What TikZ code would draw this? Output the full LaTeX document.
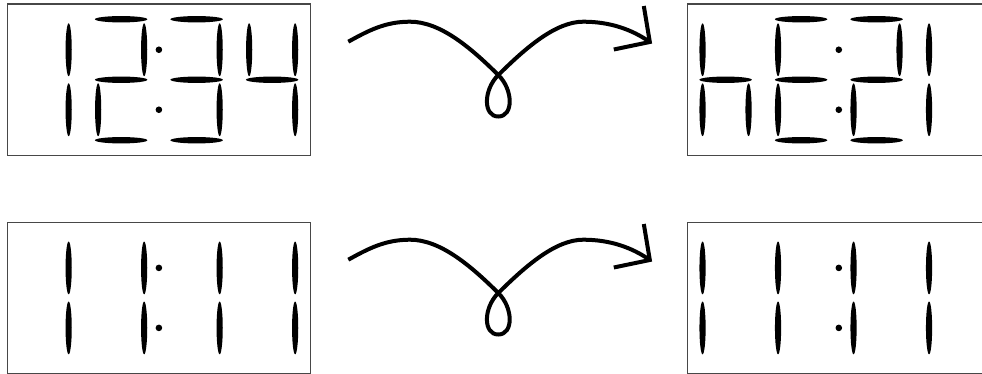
\documentclass[tikz,border=0pt]{standalone}
\begin{document}
\begin{tikzpicture}[x=1pt,y=-1pt,
  box/.style={draw=black!72, line width=1.3pt, minimum width=303pt, minimum height=151.5pt, inner sep=0pt, outer sep=0pt},
  swirl/.style={line width=4pt, line join=miter},
  seg a/.pic={\fill (0,-60.5) ellipse [x radius=26.2pt, y radius=3.2pt];},
  seg d/.pic={\fill (0,60.5) ellipse [x radius=26.2pt, y radius=3.2pt];},
  seg g/.pic={\fill (0,0) ellipse [x radius=26.2pt, y radius=3.2pt];},
  seg b/.pic={\fill (23,-30) ellipse [x radius=3.1pt, y radius=26.4pt];},
  seg c/.pic={\fill (23,30) ellipse [x radius=3.1pt, y radius=26.4pt];},
  seg e/.pic={\fill (-23,30) ellipse [x radius=3.1pt, y radius=26.4pt];},
  seg f/.pic={\fill (-23,-30) ellipse [x radius=3.1pt, y radius=26.4pt];},
  colon/.pic={\fill (0,-30) circle [radius=3.3pt]; \fill (0,30) circle [radius=3.3pt];}
]
\newcommand\sdigit[2]{\foreach \s in {#2}{\edef\tmp{\noexpand\pic at (#1,0) {seg \s};}\tmp}}
\newcommand\swirlarrow[2]{%
  \begin{scope}[shift={(0,#1)}]
    \coordinate (#2s) at (348.3,41.7);
    \coordinate (#2p) at (410,21.7);
    \coordinate (#2x) at (498.3,75);
    \coordinate (#2b) at (498.3,116.5);
    \coordinate (#2q) at (583.3,21.7);
    \coordinate (#2t) at (649.8,42);
    \draw[swirl] (#2s) .. controls (368.3,30.7) and (385,21.7) .. (#2p)
      .. controls (440,21.7) and (470,47) .. (#2x)
      .. controls (513.5,90) and (513.5,116.5) .. (#2b)
      .. controls (483.1,116.5) and (483.1,90) .. (#2x)
      .. controls (526.6,47) and (556,21.7) .. (#2q)
      .. controls (610,21.7) and (632,29.5) .. (#2t);
    \draw[swirl] (#2t) ++(-6,-36) -- (#2t) -- ++(-36,7.5);
  \end{scope}}
\clip (0,0) rectangle (982,374);
\fill[white] (0,0) rectangle (982,374);
\node[box] (tl) at (158.9,79.75) {};
\node[box] (tr) at (838.8,79.75) {};
\node[box] (bl) at (158.9,297.9) {};
\node[box] (br) at (838.8,297.9) {};
% top left: 12:34
\begin{scope}[shift={(tl.center)}]
  \sdigit{-113.25}{b,c}
  \sdigit{-37.75}{a,b,g,e,d}
  \sdigit{37.75}{a,b,g,c,d}
  \sdigit{113.25}{f,b,g,c}
  \pic at (0,0) {colon};
\end{scope}
% top right: rotated
\begin{scope}[shift={(tr.center)}]
  \sdigit{-113.25}{f,g,e,c}
  \sdigit{-37.75}{a,f,g,e,d}
  \sdigit{37.75}{a,b,g,e,d}
  \sdigit{113.25}{f,e}
  \pic at (0,0) {colon};
\end{scope}
% bottom left: 11:11
\begin{scope}[shift={(bl.center)}]
  \sdigit{-113.25}{b,c}
  \sdigit{-37.75}{b,c}
  \sdigit{37.75}{b,c}
  \sdigit{113.25}{b,c}
  \pic at (0,0) {colon};
\end{scope}
% bottom right: rotated
\begin{scope}[shift={(br.center)}]
  \sdigit{-113.25}{e,f}
  \sdigit{-37.75}{e,f}
  \sdigit{37.75}{e,f}
  \sdigit{113.25}{e,f}
  \pic at (0,0) {colon};
\end{scope}
\swirlarrow{0}{A}
\swirlarrow{218}{B}
\end{tikzpicture}
\end{document}
